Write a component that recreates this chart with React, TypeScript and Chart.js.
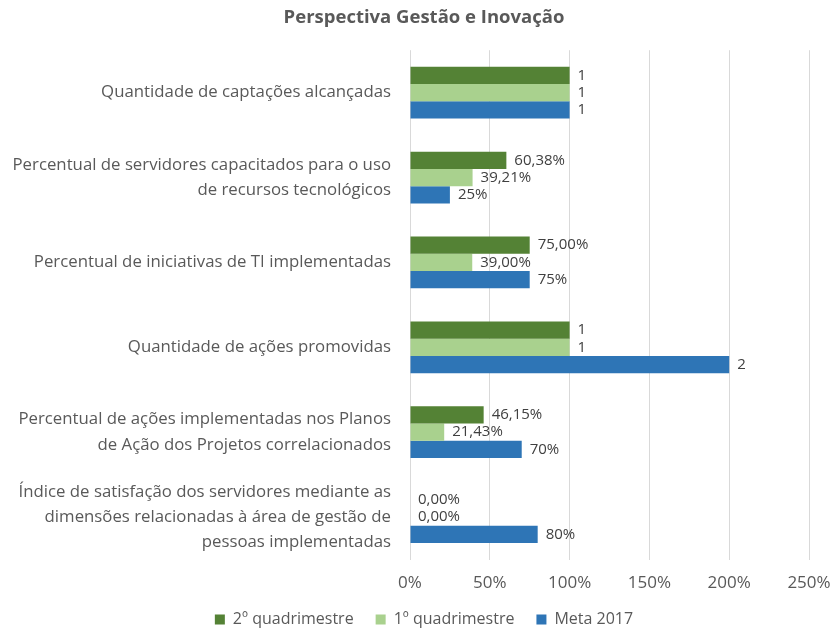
import React, { useEffect, useRef } from "react";
import { Chart, registerables } from "chart.js";

Chart.register(...registerables);

const categories: string[][] = [
  ["Quantidade de captações alcançadas"],
  ["Percentual de servidores capacitados para o uso", "de recursos tecnológicos"],
  ["Percentual de iniciativas de TI implementadas"],
  ["Quantidade de ações promovidas"],
  ["Percentual de ações implementadas nos Planos", "de Ação dos Projetos correlacionados"],
  ["Índice de satisfação dos servidores mediante as", "dimensões relacionadas à área de gestão de", "pessoas implementadas"],
];

const seriesNames = ["2º quadrimestre", "1º quadrimestre", "Meta 2017"];
const q2Values = [100, 60.38, 75, 100, 46.15, 0];
const q1Values = [100, 39.21, 39, 100, 21.43, 0];
const metaValues = [100, 25, 75, 200, 70, 80];
const q2Labels = ["1", "60,38%", "75,00%", "1", "46,15%", "0,00%"];
const q1Labels = ["1", "39,21%", "39,00%", "1", "21,43%", "0,00%"];
const metaLabels = ["1", "25%", "75%", "2", "70%", "80%"];
const colors = ["#548235", "#A9D18E", "#2E75B6"];
const xTicks = [0, 50, 100, 150, 200, 250];

const FONT = "'Open Sans', Lato, sans-serif";
const TEXT = "#595959";

export default function App() {
  const ref = useRef<HTMLCanvasElement | null>(null);
  useEffect(() => {
    document.body.style.margin = "0";
    const labelsAll = [q2Labels, q1Labels, metaLabels];
    const valueLabelPlugin = {
      id: "valueLabels",
      afterLayout(chart: any) {
        // widen label clip area so long category labels are not cut
        chart.scales.y.left = 0;
      },
      afterDatasetsDraw(chart: any) {
        const ctx = chart.ctx;
        ctx.save();
        ctx.font = `15px ${FONT}`;
        ctx.fillStyle = "#404040";
        ctx.textAlign = "left";
        ctx.textBaseline = "middle";
        chart.data.datasets.forEach((ds: any, di: number) => {
          const meta = chart.getDatasetMeta(di);
          meta.data.forEach((bar: any, i: number) => {
            ctx.fillText(labelsAll[di][i], bar.x + 8, bar.y);
          });
        });
        ctx.restore();
      },
    };
    const chart = new Chart(ref.current!, {
      type: "bar",
      data: {
        labels: categories,
        datasets: [q2Values, q1Values, metaValues].map((d, i) => ({
          label: seriesNames[i],
          data: d,
          backgroundColor: colors[i],
          categoryPercentage: 0.61,
          barPercentage: 1,
        })),
      },
      options: {
        indexAxis: "y",
        animation: false,
        responsive: false,
        layout: { padding: { left: 16, right: 0, top: 0, bottom: -6.5 } },
        scales: {
          x: {
            min: 0,
            max: 250,
            afterBuildTicks: (axis: any) => {
              axis.ticks = xTicks.map((v) => ({ value: v }));
            },
            afterFit: (axis: any) => {
              axis.height = 30;
              axis.paddingRight = 23;
              axis.paddingLeft = 0;
            },
            ticks: {
              callback: (v: any) => v + "%",
              color: TEXT,
              font: { family: FONT, size: 17 },
              padding: 13,
            },
            grid: { color: "#D9D9D9", drawTicks: false },
            border: { display: false },
          },
          y: {
            afterFit: (axis: any) => {
              axis.width = 394;
              axis.paddingTop = 0;
              axis.paddingBottom = 0;
            },
            ticks: {
              color: TEXT,
              font: { family: FONT, size: 16.8, lineHeight: 1.5 },
              padding: 19,
            },
            grid: { display: false, drawTicks: false },
            border: { display: false },
          },
        },
        plugins: {
          title: {
            display: true,
            text: "Perspectiva Gestão e Inovação",
            color: TEXT,
            font: { family: FONT, size: 18.5, weight: "bold" },
            padding: { top: 7, bottom: 21 },
          },
          legend: {
            position: "bottom",
            labels: {
              color: TEXT,
              font: { family: FONT, size: 16 },
              boxWidth: 10,
              boxHeight: 10,
              padding: 22,
            },
          },
          tooltip: { enabled: false },
        },
      },
      plugins: [valueLabelPlugin],
    });
    return () => chart.destroy();
  }, []);
  return <canvas ref={ref} width={832} height={631} style={{ display: "block" }} />;
}
